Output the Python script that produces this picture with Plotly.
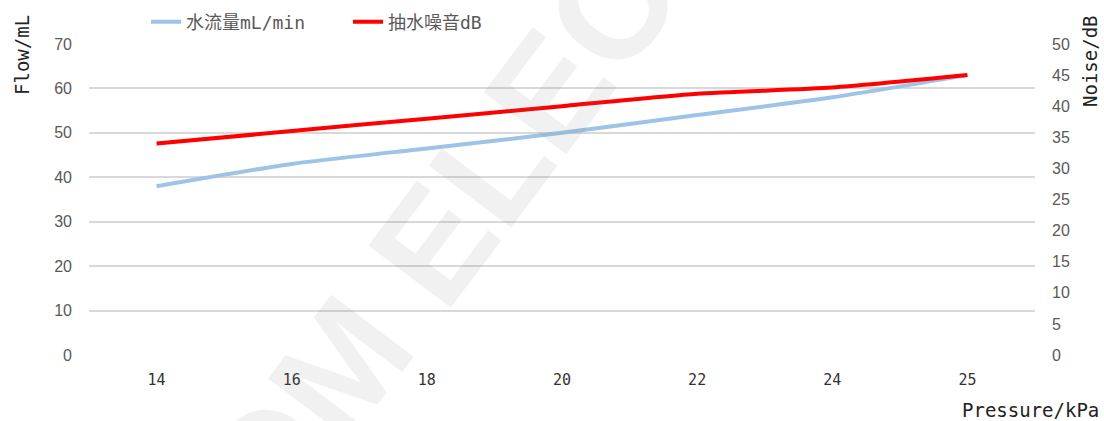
import plotly.graph_objects as go

pressure = ["14", "16", "18", "20", "22", "24", "25"]
flow = [38, 43, 46.5, 50, 54, 58, 63]
noise = [34, 36, 38, 40, 42, 43, 45]

flow_name = "水流量mL/min"
noise_name = "抽水噪音dB"
watermark = "OM ELEC"

W, H = 1104, 421
ML, MR, MT, MB = 89, 69, 44, 66
PW = W - ML - MR
PH = H - MT - MB


def px_x(x):
    return (x - ML) / PW


def px_y(y):
    return (H - MB - y) / PH


fig = go.Figure()
fig.add_trace(go.Scatter(
    x=pressure, y=flow, name=flow_name, mode="lines",
    line=dict(color="#9DC3E6", width=4, shape="spline", smoothing=0.6),
    yaxis="y",
))
fig.add_trace(go.Scatter(
    x=pressure, y=noise, name=noise_name, mode="lines",
    line=dict(color="#FF0000", width=4, shape="spline", smoothing=0.6),
    yaxis="y2",
))

tick_font = dict(family="Liberation Sans, Arial, sans-serif", size=16, color="#595959")
title_font = dict(family="DejaVu Sans Mono, monospace", size=19, color="#222222")

fig.update_layout(
    width=W, height=H,
    margin=dict(l=ML, r=MR, t=MT, b=MB, autoexpand=False),
    paper_bgcolor="white", plot_bgcolor="white",
    showlegend=True,
    legend=dict(
        orientation="h", x=px_x(146), y=px_y(22), xanchor="left", yanchor="middle",
        font=dict(family="DejaVu Sans Mono, Noto Sans CJK SC, monospace", size=18, color="#595959"),
        bgcolor="rgba(0,0,0,0)", entrywidth=157, entrywidthmode="pixels",
    ),
    xaxis=dict(
        type="category", range=[-0.5, 6.5], showgrid=False, zeroline=False,
        showline=False, ticks="",
        tickfont=dict(family="DejaVu Sans Mono, monospace", size=15, color="#333333"),
        ticklabelstandoff=14,
    ),
    yaxis=dict(
        range=[0, 70], dtick=10, showgrid=True, gridcolor="#D9D9D9", gridwidth=1.5,
        zeroline=False, showline=False, ticks="", tickfont=tick_font,
        ticklabelstandoff=16,
    ),
    yaxis2=dict(
        range=[0, 50], dtick=5, overlaying="y", side="right", showgrid=False,
        zeroline=False, showline=False, ticks="", tickfont=tick_font,
        ticklabelstandoff=16,
    ),
    annotations=[
        dict(text="Flow/mL", x=px_x(22), y=px_y(13), xref="paper", yref="paper",
             showarrow=False, textangle=-90, font=title_font,
             xanchor="center", yanchor="top"),
        dict(text="Noise/dB", x=px_x(1090), y=px_y(13), xref="paper", yref="paper",
             showarrow=False, textangle=-90, font=title_font,
             xanchor="center", yanchor="top"),
        dict(text="Pressure/kPa", x=px_x(1101), y=px_y(410), xref="paper", yref="paper",
             showarrow=False, font=title_font, xanchor="right", yanchor="middle"),
        dict(text="<b>" + watermark + "</b>", x=px_x(438), y=px_y(238),
             xref="paper", yref="paper", showarrow=False, textangle=-53,
             font=dict(family="Liberation Sans, Arial, sans-serif", size=150,
                       color="rgba(120,120,120,0.1)"),
             xanchor="center", yanchor="middle"),
    ],
)

fig.write_html(
    "out.html",
    config={"displayModeBar": False},
    post_script="document.body.style.margin='0';document.body.style.overflow='hidden';",
)
